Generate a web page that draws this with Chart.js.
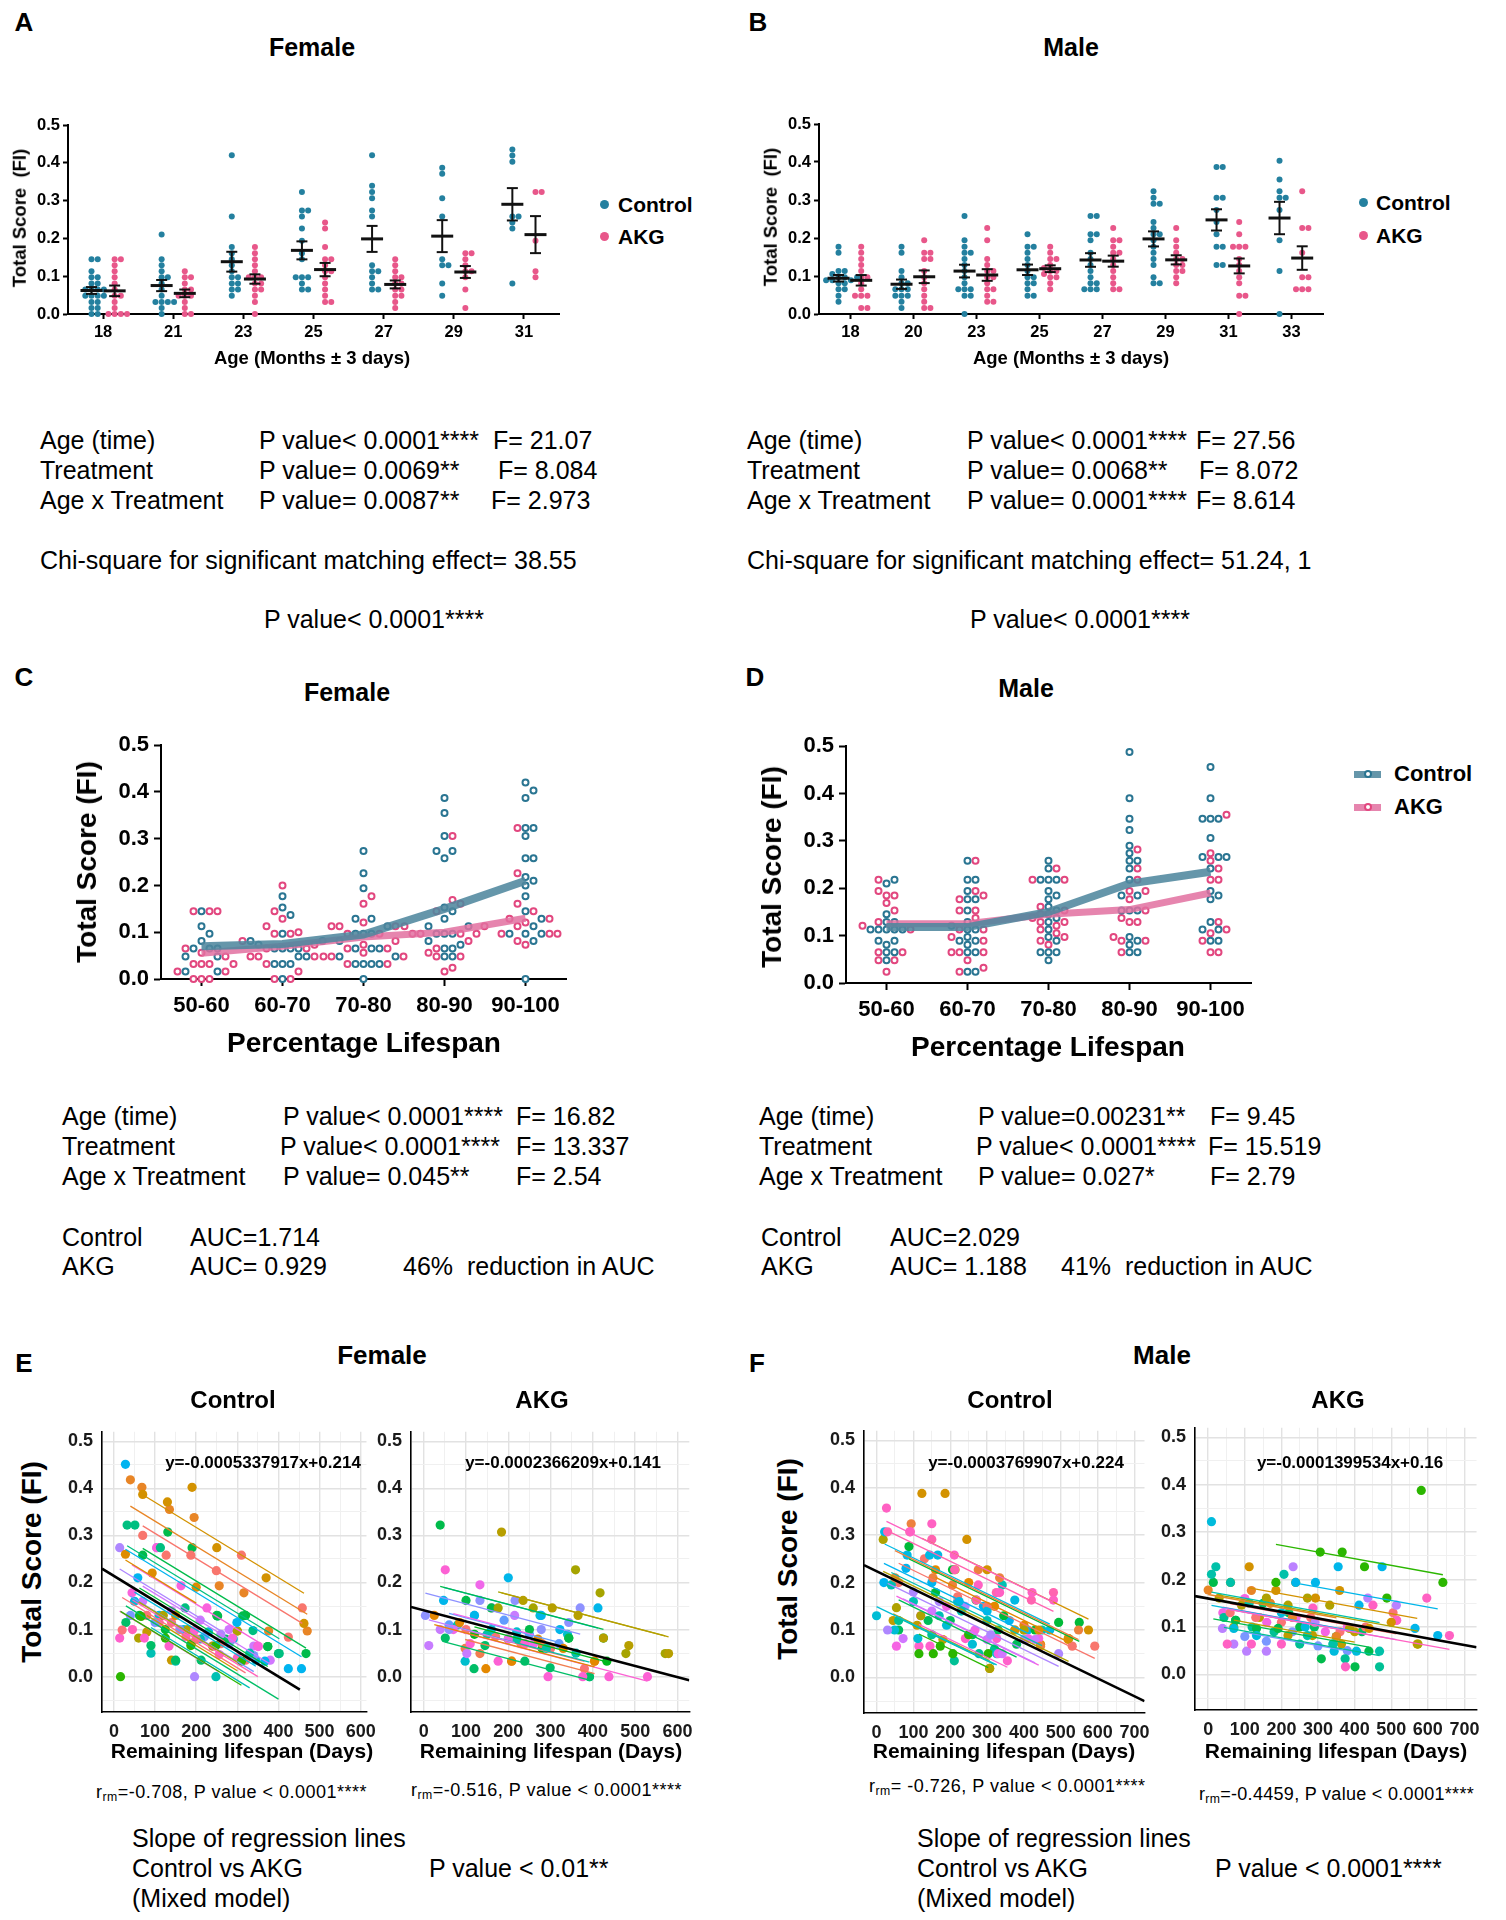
<!DOCTYPE html>
<html><head><meta charset="utf-8">
<script src="https://cdn.jsdelivr.net/npm/chart.js@4.4.1/dist/chart.umd.min.js"></script>
<style>
html,body{margin:0;padding:0;background:#fff;}
body{width:1506px;height:1920px;position:relative;overflow:hidden;font-family:"Liberation Sans",Arial,Helvetica,sans-serif;color:#000;}
canvas{position:absolute;}
.t{position:absolute;white-space:pre;line-height:1;}
.dot{position:absolute;border-radius:50%;}
</style></head><body>
<script>
// ---------------- DATA ----------------
const A_AGES = ['18','21','23','25','27','29','31'];
const A_CTRL = [
 [0.145,0.145,0.113,0.097,0.097,0.081,0.081,0.065,0.065,0.065,0.065,0.048,0.048,0.048,0.048,0.032,0.032,0.016,0.016,0,0],
 [0.21,0.145,0.129,0.113,0.097,0.097,0.081,0.065,0.048,0.032,0.032,0.032,0.032,0.016,0],
 [0.42,0.258,0.177,0.161,0.145,0.129,0.113,0.097,0.097,0.081,0.081,0.065,0.065,0.048],
 [0.323,0.274,0.274,0.258,0.226,0.194,0.161,0.145,0.097,0.097,0.097,0.081,0.065,0.065],
 [0.42,0.339,0.323,0.306,0.274,0.258,0.129,0.113,0.113,0.097,0.081,0.065,0.065],
 [0.387,0.371,0.306,0.258,0.145,0.129,0.129,0.081,0.048],
 [0.435,0.419,0.403,0.258,0.258,0.242,0.226,0.081]
];
const A_AKG = [
 [0.145,0.145,0.129,0.113,0.097,0.081,0.065,0.048,0.048,0.032,0.016,0,0,0,0],
 [0.113,0.097,0.097,0.081,0.065,0.065,0.048,0.048,0.048,0.032,0.016,0,0],
 [0.177,0.161,0.145,0.129,0.113,0.097,0.097,0.097,0.081,0.081,0.065,0.065,0.048,0.032,0],
 [0.242,0.226,0.177,0.145,0.145,0.129,0.113,0.113,0.097,0.081,0.065,0.048,0.032,0.032],
 [0.145,0.129,0.113,0.097,0.097,0.081,0.081,0.065,0.065,0.048,0.048,0.032,0.016],
 [0.161,0.161,0.145,0.129,0.113,0.113,0.097,0.065,0.016],
 [0.323,0.323,0.194,0.113,0.097]
];
const B_AGES = ['18','20','23','25','27','29','31','33'];
const B_CTRL = [
 [0.177,0.161,0.113,0.113,0.105,0.097,0.097,0.097,0.089,0.089,0.089,0.081,0.081,0.065,0.065,0.048,0.032],
 [0.177,0.161,0.113,0.097,0.081,0.081,0.065,0.065,0.065,0.048,0.048,0.048,0.032,0.016],
 [0.258,0.194,0.177,0.161,0.161,0.145,0.129,0.113,0.097,0.081,0.065,0.065,0.065,0.048,0.048,0],
 [0.21,0.177,0.177,0.161,0.145,0.129,0.113,0.097,0.097,0.081,0.081,0.065,0.048,0.048],
 [0.258,0.258,0.21,0.21,0.194,0.161,0.145,0.129,0.113,0.097,0.081,0.081,0.065,0.065,0.065],
 [0.323,0.306,0.29,0.29,0.242,0.226,0.21,0.21,0.194,0.177,0.161,0.145,0.129,0.097,0.081,0.081],
 [0.387,0.387,0.306,0.306,0.274,0.242,0.21,0.177,0.177,0.129,0.129],
 [0.403,0.354,0.323,0.306,0.306,0.274,0.194,0.113,0]
];
const B_AKG = [
 [0.177,0.161,0.145,0.129,0.113,0.097,0.097,0.081,0.065,0.048,0.048,0.048,0.016,0.016],
 [0.194,0.161,0.161,0.145,0.145,0.113,0.097,0.081,0.065,0.048,0.032,0.016,0.016],
 [0.226,0.194,0.145,0.129,0.113,0.113,0.097,0.097,0.081,0.065,0.065,0.048,0.032,0.032],
 [0.177,0.161,0.145,0.145,0.129,0.121,0.113,0.113,0.105,0.097,0.097,0.081,0.065],
 [0.226,0.194,0.194,0.177,0.161,0.161,0.145,0.129,0.113,0.097,0.081,0.065,0.065],
 [0.226,0.194,0.177,0.161,0.145,0.145,0.129,0.129,0.113,0.113,0.097,0.081],
 [0.242,0.21,0.177,0.177,0.177,0.145,0.129,0.113,0.097,0.081,0.048,0.048,0],
 [0.323,0.226,0.226,0.161,0.097,0.097,0.065,0.065,0.065]
];
const LIFE_BINS = ['50-60','60-70','70-80','80-90','90-100'];
const C_CTRL = [
 [0.145,0.113,0.097,0.081,0.065,0.065,0.065,0.048,0.048,0.016,0.016],
 [0.177,0.153,0.137,0.097,0.081,0.081,0.073,0.065,0.065,0.065,0.065,0.048,0.048,0.032,0.032,0.032,0],
 [0.274,0.226,0.194,0.129,0.129,0.113,0.097,0.097,0.097,0.081,0.065,0.065,0.065,0.048,0.048,0.032,0.032,0.032,0.032,0],
 [0.387,0.355,0.306,0.274,0.274,0.258,0.153,0.145,0.129,0.113,0.113,0.097,0.097,0.097,0.081,0.073,0.065,0.065,0.048,0.048],
 [0.42,0.403,0.387,0.323,0.323,0.306,0.258,0.258,0.218,0.21,0.2,0.177,0.145,0.129,0.113,0.097,0.097,0.097,0.081,0]
];
const C_AKG = [
 [0.145,0.145,0.145,0.065,0.056,0.048,0.032,0.032,0.032,0.032,0.016,0.016,0,0,0],
 [0.2,0.145,0.129,0.113,0.1,0.097,0.097,0.081,0.073,0.065,0.065,0.048,0.048,0.048,0.032,0.016,0,0],
 [0.177,0.161,0.121,0.113,0.113,0.113,0.097,0.097,0.081,0.073,0.065,0.065,0.056,0.048,0.048,0.048,0.032,0.032],
 [0.306,0.169,0.161,0.145,0.113,0.113,0.097,0.097,0.097,0.097,0.081,0.065,0.056,0.048,0.048,0.024,0.016],
 [0.323,0.226,0.161,0.145,0.129,0.129,0.121,0.113,0.097,0.097,0.097,0.081,0.073]
];
const C_TREND_CTRL = [0.07,0.075,0.095,0.15,0.21];
const C_TREND_AKG  = [0.055,0.07,0.09,0.10,0.13];
const D_CTRL = [
 [0.218,0.21,0.145,0.129,0.129,0.113,0.113,0.113,0.113,0.113,0.089,0.089,0.081,0.065,0.065,0.048],
 [0.258,0.218,0.218,0.194,0.177,0.177,0.153,0.129,0.121,0.113,0.113,0.097,0.089,0.089,0.081,0.065,0.065,0.024,0.024],
 [0.258,0.242,0.218,0.218,0.218,0.194,0.185,0.177,0.161,0.153,0.145,0.137,0.129,0.113,0.097,0.089,0.065,0.065,0.065,0.048],
 [0.488,0.39,0.347,0.323,0.29,0.274,0.258,0.258,0.242,0.218,0.185,0.185,0.153,0.153,0.153,0.097,0.089,0.081,0.065,0.065],
 [0.456,0.39,0.347,0.347,0.347,0.306,0.266,0.266,0.266,0.242,0.194,0.185,0.177,0.129,0.113,0.113,0.089,0.089]
];
const D_AKG = [
 [0.218,0.194,0.185,0.185,0.169,0.153,0.129,0.121,0.113,0.065,0.065,0.048,0.048,0.024],
 [0.258,0.194,0.185,0.177,0.153,0.153,0.137,0.113,0.113,0.097,0.089,0.065,0.065,0.065,0.048,0.032,0.024],
 [0.242,0.218,0.218,0.161,0.153,0.145,0.137,0.129,0.129,0.121,0.113,0.105,0.097,0.089,0.081],
 [0.282,0.242,0.218,0.194,0.194,0.177,0.153,0.137,0.129,0.129,0.097,0.089,0.089,0.065],
 [0.355,0.274,0.258,0.242,0.218,0.218,0.129,0.113,0.105,0.089,0.065,0.065]
];
const D_TREND_CTRL = [0.118,0.118,0.15,0.21,0.235];
const D_TREND_AKG  = [0.125,0.125,0.145,0.155,0.19];

// Panel E/F: per-mouse remaining lifespan (days) and FI score
const E_CTRL_X = [[70,130,190,250,370,462],[40,68,135,195,256,316,376,470],[70,127,187,249,310,424,458],[70,131,190,252,313,374,467],[32,51,113,173,252,338,402],[28,93,150,200],[44,104,163,226,288,351],[28,58,299,367,424,456],[14,104,196,260],[16,66,125,187,248,310],[20,80,140,200,260,320],[14,74,134,196,256],[60,120,180,240,300],[29,90,150,212,272,400],[90,150,210,248,330],[40,100,160,220,280,340],[45,110,175,240,300,350],[80,140,200,300],[50,110,170,230,290,345],[62,125,188,250,320,374],[70,140,210,280,340,380]];
const E_CTRL_Y = [[0.387,0.371,0.402,0.274,0.21,0.113],[0.418,0.402,0.355,0.338,0.193,0.178,0.097,0.097],[0.3,0.258,0.258,0.225,0.258,0.084,0.146],[0.258,0.307,0.274,0.129,0.129,0.064,0.049],[0.322,0.322,0.274,0.146,0.129,0.098,0.049],[0.26,0.22,0.13,0.19],[0.178,0.274,0.193,0.146,0.082,0.064],[0.451,0.21,0.115,0.033,0.017,0.017],[0.274,0.274,0,0.09],[0,0.128,0.082,0.066,0.066,0.033],[0.099,0.13,0.115,0.08,0.07,0.035],[0.082,0.082,0.065,0.098,0.047],[0.082,0.13,0.1,0.065,0.097],[0.115,0.066,0.035,0.035,0.08,0.049],[0.05,0.033,0.08,0,0.05],[0.13,0.115,0.1,0.085,0.07,0.045],[0.1,0.115,0.085,0.065,0.04,0.065],[0.095,0.035,0.08,0.097],[0.16,0.13,0.1,0.095,0.08,0.035],[0.13,0.1,0.07,0.13,0.13,0.064],[0.16,0.14,0.12,0.1,0.065,0.035]];
const E_AKG_X = [[184,235,304,365,425,485,579],[176,259,359,417,478,571],[39,100,160,250,343,425],[47,120,200,278,322,412],[4,60,133,216,278,343,370],[12,39,102,161,215],[25,85,147,208,270,330,404],[51,110,176,240,294,376,438,529],[70,133,200,260],[51,119,145,239,299,392],[80,150,220,290,360,392],[98,133,208,280,404],[98,160,220,275,340],[120,200,280,343,433],[60,120,190,250,320],[100,170,230,300,380]];
const E_AKG_Y = [[0.307,0.162,0.146,0.13,0.082,0.066,0.049],[0.146,0.146,0.227,0.178,0.049,0.049],[0.322,0.162,0.146,0.1,0.082,0.082],[0.162,0.13,0.21,0.13,0.1,0.146],[0.13,0.1,0.162,0.162,0.1,0.115,0.146],[0.066,0.1,0.049,0.146,0.13],[0.13,0.115,0.017,0.033,0.08,0.06,0.033],[0.227,0.07,0.033,0.07,0,0,0,0],[0.1,0.195,0.08,0.07],[0.082,0.017,0.066,0.033,0.019,0],[0.11,0.09,0.08,0.06,0.05,0],[0.06,0.049,0.033,0.07,0.033],[0.033,0.1,0.095,0.13,0.09],[0.09,0.08,0.06,0.082,0.033],[0.11,0.13,0.12,0.09,0.07],[0.1,0.085,0.07,0.06,0.017]];
const F_CTRL_X = [[27,92,150,211,276,334,422,480],[30,90,150,212,271,325,420,480],[123,186,245,300,375,440,520,575],[50,94,153,206,276,334,375,445,548],[88,160,206,270,345,430,494,550],[22,83,144,166,224,300,375,470],[18,54,120,213,307,400,521],[40,100,170,230,300,341,449],[60,130,220,300,400,531,592],[30,100,170,240,310,400,494],[72,150,230,300,341,430],[54,120,190,267,330,411,440],[0,49,112,190,260,326],[115,154,173,207,250,303],[115,145,241,326,355],[60,150,211,278,320],[45,110,180,250,307],[20,80,150,220,290,360,410],[160,250,320,400,445,520],[60,140,200,260,330,380]];
const F_CTRL_Y = [[0.357,0.307,0.324,0.258,0.195,0.179,0.179,0.163],[0.307,0.307,0.291,0.227,0.163,0.179,0.163,0.179],[0.388,0.388,0.291,0.227,0.1,0.1,0.082,0.1],[0.21,0.324,0.21,0.195,0.227,0.21,0.1,0.066,0.1],[0.276,0.179,0.227,0.163,0.13,0.1,0.116,0.116],[0.307,0.258,0.258,0.258,0.16,0.14,0.163,0.1],[0.291,0.147,0.13,0.227,0.019,0.1,0.082],[0.195,0.16,0.13,0.14,0.12,0.195,0.1],[0.2,0.25,0.17,0.15,0.1,0.066,0.066],[0.1,0.18,0.16,0.15,0.09,0.08,0.05],[0.082,0.14,0.15,0.08,0.05,0.08],[0.066,0.13,0.15,0.1,0.05,0.082,0.082],[0.13,0.1,0.082,0.11,0.07,0.05],[0.05,0.05,0.066,0.05,0.09,0.05],[0.066,0.066,0.082,0.082,0.035],[0.12,0.09,0.035,0.05,0.06],[0.12,0.11,0.08,0.09,0.019],[0.2,0.23,0.2,0.16,0.15,0.12,0.1],[0.227,0.2,0.15,0.11,0.07,0.08],[0.1,0.12,0.12,0.09,0.1,0.07]];
const F_AKG_X = [[185,306,366,427,488,582,641],[239,293,355,412,475,565,627],[9,21,61,112,207,271,341,468],[30,91,159,218,271,332,386,573],[112,185,239,293,359,440,500,571],[52,118,200,286,375,450,515,597,659],[39,70,105,159,232,292,436,514],[9,70,132,200,265,344,405],[14,75,132,191,250,309,401,439],[0,61,118,170,230,290,350],[60,130,200,280,360,430,505,514],[43,120,180,250,341,374,468],[40,100,160,240,320,380],[70,140,218,285,364,400],[75,150,220,290,350,420],[100,159,230,300,380]];
const F_AKG_Y = [[0.194,0.258,0.258,0.227,0.161,0.388,0.194],[0.194,0.194,0.227,0.146,0.227,0.097,0.082],[0.211,0.227,0.194,0.15,0.211,0.082,0.064,0.049],[0.161,0.146,0.161,0.146,0.161,0.146,0.097,0.064],[0.227,0.177,0.194,0.161,0.177,0.097,0.11,0.064],[0.064,0.064,0.064,0.14,0.016,0.146,0.114,0.161,0.082],[0.097,0.064,0.049,0.049,0.227,0.11,0.161,0.146],[0.322,0.097,0.082,0.13,0.1,0.049,0.049],[0.194,0.114,0.097,0.097,0.1,0.033,0.016,0.049],[0.178,0.194,0.177,0.15,0.12,0.11,0.08],[0.13,0.12,0.11,0.12,0.09,0.1,0.13,0.114],[0.12,0.1,0.09,0.064,0.064,0.033,0.016],[0.13,0.16,0.11,0.12,0.09,0.1],[0.1,0.12,0.082,0.082,0.064,0.09],[0.114,0.15,0.13,0.1,0.08,0.09],[0.08,0.07,0.09,0.06,0.05]];
// overall regression lines (from the printed equations)
const E_CTRL_SLOPE = -0.0005337917, E_CTRL_INT = 0.214;
const E_AKG_SLOPE  = -0.0002366209, E_AKG_INT  = 0.141;
const F_CTRL_SLOPE = -0.0003769907, F_CTRL_INT = 0.224;
const F_AKG_SLOPE  = -0.0001399534, F_AKG_INT  = 0.16;

// ---------------- STYLE (hues per mouse, ggplot-like) ----------------
const E_CTRL_HUE = [55,35,15,140,160,45,320,225,275,125,10,330,80,150,185,260,340,65,210,135,290];
const E_AKG_HUE  = [75,85,140,220,265,285,40,325,310,150,180,25,200,130,255,12];
const F_CTRL_HUE = [335,345,55,30,135,215,80,185,15,275,290,315,205,125,330,170,70,225,40,145];
const F_AKG_HUE  = [125,220,180,80,55,335,280,210,140,35,12,170,315,70,150,260];

const FONT = '"Liberation Sans", Arial, Helvetica, sans-serif';
const TEAL = '#24809f', PINK = '#e8578a';
const RING_TEAL = '#2a7592', RING_PINK = '#e2477f';

function hcl(h, c=100, l=65){
  const hr=h*Math.PI/180, U=c*Math.cos(hr), V=c*Math.sin(hr);
  const Xn=0.95047,Yn=1,Zn=1.08883;
  const den=Xn+15*Yn+3*Zn, un=4*Xn/den, vn=9*Yn/den;
  const Y = l>8? Math.pow((l+16)/116,3) : l/903.3;
  const u=U/(13*l)+un, v=V/(13*l)+vn;
  const X=Y*9*u/(4*v), Z=Y*(12-3*u-20*v)/(4*v);
  const r=3.2406*X-1.5372*Y-0.4986*Z, g=-0.9689*X+1.8758*Y+0.0415*Z, b=0.0557*X-0.2040*Y+1.0570*Z;
  const f=t=>{t=t<=0.0031308?12.92*t:1.055*Math.pow(t,1/2.4)-0.055; return Math.round(Math.max(0,Math.min(1,t))*255);};
  return `rgb(${f(r)},${f(g)},${f(b)})`;
}

function T(html, x, y, size, opt={}){
  const d=document.createElement('div'); d.className='t'; d.innerHTML=html;
  d.style.left=x+'px'; d.style.top=y+'px'; d.style.fontSize=size+'px';
  d.style.fontWeight=opt.bold?'bold':'normal';
  if(opt.ls) d.style.letterSpacing=opt.ls+'px';
  const ax = (opt.align==='center'||opt.rot)?'-50%':'0';
  d.style.transform=`translate(${ax},-50%)`+(opt.rot?' rotate(-90deg)':'');
  document.body.appendChild(d); return d;
}
function dot(x,y,r,color,ring){
  const d=document.createElement('div'); d.className='dot';
  const s = ring? (r*2-4) : r*2;
  d.style.width=s+'px'; d.style.height=s+'px';
  d.style.left=(x-r)+'px'; d.style.top=(y-r)+'px';
  if(ring){ d.style.border='2px solid '+color; d.style.background='#fff'; }
  else d.style.background=color;
  document.body.appendChild(d);
}
function addCanvas(L,T0,R,B,yW,xH,padT,padR){
  const c=document.createElement('canvas');
  const w=(R-L)+yW+padR, h=(B-T0)+padT+xH;
  c.width=w; c.height=h; c.style.width=w+'px'; c.style.height=h+'px';
  c.style.left=(L-yW)+'px'; c.style.top=(T0-padT)+'px';
  document.body.appendChild(c); return c;
}
function swarm(vals, d, ppuY){
  const idx=vals.map((v,i)=>i).sort((a,b)=>vals[a]-vals[b]);
  const placed=[], out=new Array(vals.length);
  for(const i of idx){
    const y=vals[i]*ppuY;
    for(let k=0;k<200;k++){
      const off=k===0?0:(k%2?1:-1)*Math.ceil(k/2)*d;
      let ok=true;
      for(const p of placed){const dy=p.y-y,dx=p.x-off; if(dx*dx+dy*dy<d*d*0.9){ok=false;break;}}
      if(ok){placed.push({x:off,y});out[i]=off;break;}
    }
  }
  return out;
}

// ---------------- beeswarm panels (A-D) ----------------
function beeChart(o){
  const n=o.cats.length, ppuX=(o.R-o.L)/n, ppuY=(o.B-o.T)/0.5;
  const offs=o.groups.map(()=>[]);
  o.cats.forEach((c,i)=>{
    if(o.combined){
      const all=[]; o.groups.forEach((g,gi)=>g.vals[i].forEach((v,k)=>all.push({v,gi,k})));
      const off=swarm(all.map(a=>a.v),o.d,ppuY);
      o.groups.forEach((g,gi)=>offs[gi][i]=[]);
      all.forEach((a,j)=>{offs[a.gi][i][a.k]=off[j];});
    } else {
      o.groups.forEach((g,gi)=>{offs[gi][i]=swarm(g.vals[i],o.d,ppuY);});
    }
  });
  const datasets=[];
  (o.lines||[]).forEach((ln,j)=>{
    datasets.push({type:'line',data:ln.vals.map((v,i)=>({x:i,y:v})),borderColor:ln.color,borderWidth:ln.width,
      pointRadius:0,showLine:true,fill:false,tension:0,order:j,clip:false});
  });
  o.groups.forEach((g,gi)=>{
    const data=[];
    g.vals.forEach((arr,i)=>arr.forEach((v,k)=>data.push({x:i+g.off+offs[gi][i][k]/ppuX,y:v})));
    datasets.push({type:'scatter',data,pointRadius:o.r,pointHoverRadius:o.r,
      backgroundColor:o.ring?'#fff':g.color,borderColor:g.color,
      borderWidth:o.ring?2:0,pointBorderWidth:o.ring?2:0,order:5,clip:false});
  });
  const plugins=[];
  if(o.errbars){
    const groups=[];
    o.groups.forEach(g=>g.vals.forEach((arr,i)=>groups.push({x:i+g.off,vals:arr})));
    plugins.push({id:'eb',afterDatasetsDraw(chart){
      const ctx=chart.ctx, xs=chart.scales.x, ys=chart.scales.y;
      ctx.save(); ctx.strokeStyle='#111';
      const ln=(a,b,c,d)=>{ctx.beginPath();ctx.moveTo(a,b);ctx.lineTo(c,d);ctx.stroke();};
      groups.forEach(g=>{
        const m=g.vals.reduce((a,b)=>a+b,0)/g.vals.length;
        const sd=Math.sqrt(g.vals.reduce((a,b)=>a+(b-m)*(b-m),0)/(g.vals.length-1));
        const se=sd/Math.sqrt(g.vals.length);
        const px=xs.getPixelForValue(g.x), pm=ys.getPixelForValue(m), pt=ys.getPixelForValue(m+se), pb=ys.getPixelForValue(m-se);
        ctx.lineWidth=2; ln(px,pt,px,pb); ln(px-5.5,pt,px+5.5,pt); ln(px-5.5,pb,px+5.5,pb);
        ctx.lineWidth=3; ln(px-11,pm,px+11,pm);
      });
      ctx.restore();
    }});
  }
  const padT=15,padR=20;
  const cv=addCanvas(o.L,o.T,o.R,o.B,o.yW,o.xH,padT,padR);
  const tickFont={family:FONT,size:o.fs,weight:'bold'};
  new Chart(cv,{type:'scatter',data:{datasets},plugins,
    options:{responsive:false,animation:false,devicePixelRatio:1,
      layout:{padding:{left:0,top:padT,right:padR,bottom:0}},
      plugins:{legend:{display:false},tooltip:{enabled:false}},
      scales:{
        x:{type:'linear',min:-0.5,max:n-0.5,
          afterBuildTicks:s=>{s.ticks=o.cats.map((c,i)=>({value:i}));},
          afterFit:s=>{s.height=o.xH;},
          ticks:{callback:v=>o.cats[v],font:tickFont,color:'#000',padding:o.xPad,autoSkip:false,maxRotation:0},
          grid:{display:true,drawOnChartArea:false,drawTicks:true,tickLength:o.tl,tickWidth:2,tickColor:'#000',color:'#000'},
          border:{display:true,color:'#000',width:2}},
        y:{type:'linear',min:0,max:0.5,
          afterFit:s=>{s.width=o.yW;},
          ticks:{stepSize:0.1,callback:v=>v.toFixed(1),font:tickFont,color:'#000',padding:o.yPad},
          grid:{display:true,drawOnChartArea:false,drawTicks:true,tickLength:o.tl,tickWidth:2,tickColor:'#000',color:'#000'},
          border:{display:true,color:'#000',width:2}}
      }}});
}

// ---------------- mixed model panels (E-F) ----------------
function mixedChart(o){
  const datasets=[];
  o.X.forEach((xs,m)=>{
    const c=hcl(o.H[m]);
    datasets.push({type:'scatter',data:xs.map((x,k)=>({x,y:o.Y[m][k]})),pointRadius:4.6,pointHoverRadius:4.6,
      backgroundColor:c,borderWidth:0,pointBorderWidth:0,order:10,clip:false});
  });
  o.X.forEach((xs,m)=>{
    const c=hcl(o.H[m]);
    const mx=xs.reduce((a,b)=>a+b,0)/xs.length, my=o.Y[m].reduce((a,b)=>a+b,0)/xs.length;
    const b=my-o.slope*mx, x0=Math.min(...xs), x1=Math.max(...xs);
    datasets.push({type:'line',data:[{x:x0,y:o.slope*x0+b},{x:x1,y:o.slope*x1+b}],borderColor:c,borderWidth:1.3,
      pointRadius:0,showLine:true,fill:false,order:5});
  });
  datasets.push({type:'line',data:[{x:o.bx0,y:o.slope*o.bx0+o.icpt},{x:o.bx1,y:o.slope*o.bx1+o.icpt}],
    borderColor:'#000',borderWidth:2.6,pointRadius:0,showLine:true,fill:false,order:0});
  const padT=15,padR=12, yW=o.yW, xH=40;
  const cv=addCanvas(o.L,o.T,o.R,o.B,yW,xH,padT,padR);
  const tf={family:FONT,size:18,weight:'bold'};
  const isMaj=(v,u)=>Math.abs(v/u-Math.round(v/u))<1e-6;
  const xt=[]; for(let v=Math.ceil(o.xmin/50)*50; v<=o.xmax; v+=50) xt.push({value:v});
  const yt=[]; for(let k=-1;k<=10;k++) yt.push({value:Math.round(k*5)/100});
  new Chart(cv,{type:'scatter',data:{datasets},
    options:{responsive:false,animation:false,devicePixelRatio:1,
      layout:{padding:{left:0,top:padT,right:padR,bottom:0}},
      plugins:{legend:{display:false},tooltip:{enabled:false}},
      scales:{
        x:{type:'linear',min:o.xmin,max:o.xmax,
          afterBuildTicks:s=>{s.ticks=xt.map(t=>({value:t.value}));},
          afterFit:s=>{s.height=xH;},
          ticks:{callback:v=>isMaj(v,100)?String(v):'',font:tf,color:'#1a1a1a',padding:9,autoSkip:false,maxRotation:0},
          grid:{drawTicks:false,color:c=>isMaj(c.tick.value,100)?'#e2e2e2':'#f0f0f0',lineWidth:c=>isMaj(c.tick.value,100)?1.4:1},
          border:{display:true,color:'#000',width:1.6}},
        y:{type:'linear',min:-0.075,max:0.52,
          afterBuildTicks:s=>{s.ticks=yt.map(t=>({value:t.value}));},
          afterFit:s=>{s.width=yW;},
          ticks:{callback:v=>(isMaj(v,0.1)&&v>-1e-9)?v.toFixed(1):'',font:tf,color:'#1a1a1a',padding:9,autoSkip:false},
          grid:{drawTicks:false,color:c=>isMaj(c.tick.value,0.1)?'#e2e2e2':'#f0f0f0',lineWidth:c=>isMaj(c.tick.value,0.1)?1.4:1},
          border:{display:true,color:'#000',width:1.6}}
      }}});
}

// ---------------- build panels ----------------
beeChart({L:68,T:125,R:559,B:314,cats:A_AGES,yW:60,xH:45,fs:16.5,tl:5,xPad:4,yPad:3,r:3,d:6.2,errbars:true,
  groups:[{vals:A_CTRL,color:TEAL,off:-0.165},{vals:A_AKG,color:PINK,off:0.165}]});
beeChart({L:819,R:1323,T:124,B:314,cats:B_AGES,yW:60,xH:45,fs:16.5,tl:5,xPad:4,yPad:3,r:3,d:6.2,errbars:true,
  groups:[{vals:B_CTRL,color:TEAL,off:-0.19},{vals:B_AKG,color:PINK,off:0.17}]});
beeChart({L:161,R:566,T:742,B:979,cats:LIFE_BINS,yW:90,xH:60,fs:22,tl:7,xPad:7,yPad:5,r:3,d:8,ring:true,combined:true,
  groups:[{vals:C_CTRL,color:RING_TEAL,off:0},{vals:C_AKG,color:RING_PINK,off:0}],
  lines:[{vals:C_TREND_CTRL,color:'rgba(80,135,158,0.88)',width:8},{vals:C_TREND_AKG,color:'rgba(226,112,160,0.85)',width:7}]});
beeChart({L:846,R:1251,T:743,B:983,cats:LIFE_BINS,yW:90,xH:60,fs:22,tl:7,xPad:7,yPad:5,r:3,d:8,ring:true,combined:true,
  groups:[{vals:D_CTRL,color:RING_TEAL,off:0},{vals:D_AKG,color:RING_PINK,off:0}],
  lines:[{vals:D_TREND_CTRL,color:'rgba(80,135,158,0.88)',width:8},{vals:D_TREND_AKG,color:'rgba(226,112,160,0.85)',width:7}]});

mixedChart({L:102,R:373,T:1427,B:1712,xmin:-29,xmax:614,yW:50,X:E_CTRL_X,Y:E_CTRL_Y,H:E_CTRL_HUE,slope:E_CTRL_SLOPE,icpt:E_CTRL_INT,bx0:-29,bx1:452});
mixedChart({L:411,R:690,T:1427,B:1712,xmin:-30,xmax:628,yW:50,X:E_AKG_X,Y:E_AKG_Y,H:E_AKG_HUE,slope:E_AKG_SLOPE,icpt:E_AKG_INT,bx0:-30,bx1:628});
mixedChart({L:864,R:1147,T:1426,B:1713,xmin:-34,xmax:727,yW:50,X:F_CTRL_X,Y:F_CTRL_Y,H:F_CTRL_HUE,slope:F_CTRL_SLOPE,icpt:F_CTRL_INT,bx0:-34,bx1:727});
mixedChart({L:1195,R:1477,T:1423,B:1710,xmin:-36,xmax:733,yW:50,X:F_AKG_X,Y:F_AKG_Y,H:F_AKG_HUE,slope:F_AKG_SLOPE,icpt:F_AKG_INT,bx0:-36,bx1:733});

// ---------------- text ----------------
[['A',24,22],['B',758,22],['C',24,677],['D',755,677],['E',24,1363],['F',757,1363]].forEach(([s,x,y])=>T(s,x,y,26,{bold:true,align:'center'}));
T('Female',312,47,25,{bold:true,align:'center'});
T('Male',1071,47,25,{bold:true,align:'center'});
T('Female',347,692,25,{bold:true,align:'center'});
T('Male',1026,688,25,{bold:true,align:'center'});
T('Female',382,1355,26,{bold:true,align:'center'});
T('Male',1162,1355,26,{bold:true,align:'center'});

// axis titles
T('Total Score  (FI)',20,218,18.5,{bold:true,rot:true});
T('Total Score  (FI)',771,217,18.5,{bold:true,rot:true});
T('Age (Months ± 3 days)',312,358,18.5,{bold:true,align:'center'});
T('Age (Months ± 3 days)',1071,358,18.5,{bold:true,align:'center'});
T('Total Score (FI)',87,862,28,{bold:true,rot:true});
T('Total Score (FI)',772,867,28,{bold:true,rot:true});
T('Percentage Lifespan',364,1043,28,{bold:true,align:'center'});
T('Percentage Lifespan',1048,1047,28,{bold:true,align:'center'});
T('Total Score (FI)',32,1562,28,{bold:true,rot:true});
T('Total Score (FI)',788,1559,28,{bold:true,rot:true});
[[242,1750],[551,1750],[1004,1750],[1336,1750]].forEach(([x,y])=>T('Remaining lifespan (Days)',x,y,21,{bold:true,align:'center'}));
T('Control',233,1400,24,{bold:true,align:'center'});
T('AKG',542,1400,24,{bold:true,align:'center'});
T('Control',1010,1400,24,{bold:true,align:'center'});
T('AKG',1338,1400,24,{bold:true,align:'center'});
T('y=-0.0005337917x+0.214',263,1462,17,{bold:true,align:'center'});
T('y=-0.0002366209x+0.141',563,1462,17,{bold:true,align:'center'});
T('y=-0.0003769907x+0.224',1026,1462,17,{bold:true,align:'center'});
T('y=-0.0001399534x+0.16',1350,1462,17,{bold:true,align:'center'});

// legends
dot(604,204,4.5,TEAL); T('Control',618,204,21,{bold:true});
dot(604,236,4.5,PINK); T('AKG',618,236,21,{bold:true});
dot(1363,202,4.5,TEAL); T('Control',1376,202,21,{bold:true});
dot(1363,235,4.5,PINK); T('AKG',1376,235,21,{bold:true});
function lineKey(x0,x1,y,color,ring){
  const d=document.createElement('div'); d.style.position='absolute';
  d.style.left=x0+'px'; d.style.top=(y-3.5)+'px'; d.style.width=(x1-x0)+'px'; d.style.height='7px'; d.style.background=color;
  document.body.appendChild(d); dot((x0+x1)/2,y,4,ring,true);
}
lineKey(1354,1381,774,'rgba(80,135,158,0.88)',RING_TEAL); T('Control',1394,774,22,{bold:true});
lineKey(1354,1381,807,'rgba(226,112,160,0.85)',RING_PINK); T('AKG',1394,807,22,{bold:true});

// stats A/B
const S=25;
T('Age (time)',40,440,S); T('P value&lt; 0.0001****',259,440,S); T('F= 21.07',493,440,S);
T('Treatment',40,470,S); T('P value= 0.0069**',259,470,S); T('F= 8.084',498,470,S);
T('Age x Treatment',40,500,S); T('P value= 0.0087**',259,500,S); T('F= 2.973',491,500,S);
T('Chi-square for significant matching effect= 38.55',40,560,S);
T('P value&lt; 0.0001****',264,619,S);
T('Age (time)',747,440,S); T('P value&lt; 0.0001****',967,440,S); T('F= 27.56',1196,440,S);
T('Treatment',747,470,S); T('P value= 0.0068**',967,470,S); T('F= 8.072',1199,470,S);
T('Age x Treatment',747,500,S); T('P value= 0.0001****',967,500,S); T('F= 8.614',1196,500,S);
T('Chi-square for significant matching effect= 51.24, 1',747,560,S);
T('P value&lt; 0.0001****',970,619,S);
// stats C/D
T('Age (time)',62,1116,S); T('P value&lt; 0.0001****',283,1116,S); T('F= 16.82',516,1116,S);
T('Treatment',62,1146,S); T('P value&lt; 0.0001****',280,1146,S); T('F= 13.337',516,1146,S);
T('Age x Treatment',62,1176,S); T('P value= 0.045**',283,1176,S); T('F= 2.54',516,1176,S);
T('Control',62,1237,S); T('AUC=1.714',190,1237,S);
T('AKG',62,1266,S); T('AUC= 0.929',190,1266,S); T('46%  reduction in AUC',403,1266,S);
T('Age (time)',759,1116,S); T('P value=0.00231**',978,1116,S); T('F= 9.45',1210,1116,S);
T('Treatment',759,1146,S); T('P value&lt; 0.0001****',976,1146,S); T('F= 15.519',1208,1146,S);
T('Age x Treatment',759,1176,S); T('P value= 0.027*',978,1176,S); T('F= 2.79',1210,1176,S);
T('Control',761,1237,S); T('AUC=2.029',890,1237,S);
T('AKG',761,1266,S); T('AUC= 1.188',890,1266,S); T('41%  reduction in AUC',1061,1266,S);
// bottom
const SUB='<span style="font-size:0.68em;vertical-align:-0.25em">rm</span>';
T('r'+SUB+'=-0.708, P value &lt; 0.0001****',96,1793,18,{ls:0.5});
T('r'+SUB+'=-0.516, P value &lt; 0.0001****',411,1791,18,{ls:0.5});
T('r'+SUB+'= -0.726, P value &lt; 0.0001****',869,1787,18,{ls:0.5});
T('r'+SUB+'=-0.4459, P value &lt; 0.0001****',1199,1795,18,{ls:0.3});
T('Slope of regression lines',132,1838,S); T('Control vs AKG',132,1868,S); T('(Mixed model)',132,1898,S);
T('P value &lt; 0.01**',429,1868,S);
T('Slope of regression lines',917,1838,S); T('Control vs AKG',917,1868,S); T('(Mixed model)',917,1898,S);
T('P value &lt; 0.0001****',1215,1868,S);
</script></body></html>
